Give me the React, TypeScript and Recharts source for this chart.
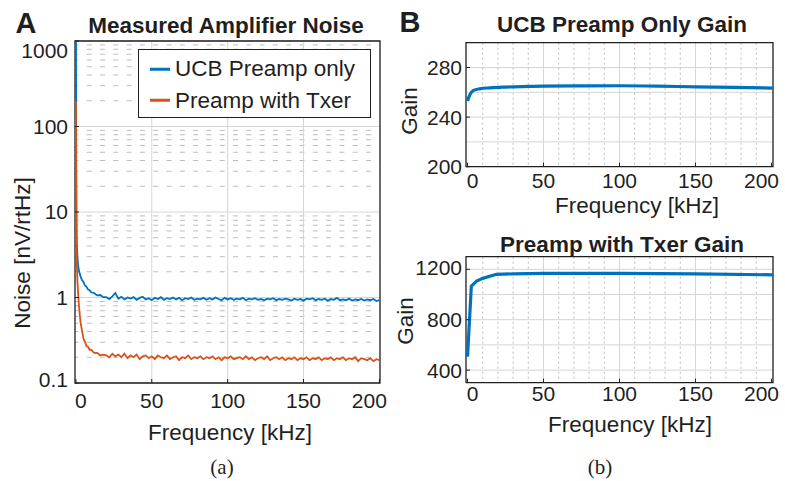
import {
  LineChart,
  Line,
  XAxis,
  YAxis,
  CartesianGrid,
  ReferenceArea,
  Legend,
} from "recharts";

const FONT = '"Liberation Sans", Arial, Helvetica, sans-serif';
const SERIF = '"Liberation Serif", "DejaVu Serif", serif';
const INK = "#1f1f1f";
const BLUE = "#0072BD";
const ORANGE = "#D95319";
const MAJOR = "#d6d6d6";
const MINOR = "#bdbdbd";
const W = 785;
const H = 481;

// ---- panel A: measured amplifier noise ----
const noiseFreq = [
  0, 0.25, 0.5, 1, 1.5, 2, 3, 4, 5, 6, 7, 8, 9, 10, 12, 14, 16, 18,
  20, 22, 24, 26, 28, 30, 32, 34, 36, 38,
  40, 42, 44, 46, 48, 50, 52, 54, 56, 58,
  60, 62, 64, 66, 68, 70, 72, 74, 76, 78,
  80, 82, 84, 86, 88, 90, 92, 94, 96, 98,
  100, 102, 104, 106, 108, 110, 112, 114, 116, 118,
  120, 122, 124, 126, 128, 130, 132, 134, 136, 138,
  140, 142, 144, 146, 148, 150, 152, 154, 156, 158,
  160, 162, 164, 166, 168, 170, 172, 174, 176, 178,
  180, 182, 184, 186, 188, 190, 192, 194, 196, 198,
  200,
];
const ucbNoise = [
  3000, 30, 4.6, 3.0, 2.35, 2.05, 1.78, 1.6, 1.52, 1.38, 1.33, 1.24, 1.22, 1.15, 1.13, 1.06, 1.07, 1.01,
  1.01, 0.96, 1.03, 1.13, 0.97, 1.02, 0.95, 1.0, 0.97, 1.01,
  0.94, 0.99, 1.02, 0.95, 0.98, 0.93, 0.99, 0.96, 1.01, 0.94,
  0.98, 0.96, 1.0, 0.95, 0.99, 0.93, 0.98, 0.96, 1.0, 0.94,
  0.97, 0.95, 0.99, 0.94, 0.98, 0.95, 1.0, 0.96, 0.93, 0.99,
  0.95, 0.98, 0.94, 0.97, 0.95, 0.99, 0.93, 0.97, 0.95, 0.98,
  0.94, 0.96, 0.93, 0.97, 0.95, 0.98, 0.93, 0.96, 0.94, 0.97,
  0.95, 0.92, 0.97, 0.94, 0.96, 0.92, 0.97, 0.95, 0.98, 0.93,
  0.96, 0.94, 0.97, 0.92, 0.96, 0.94, 0.99, 0.93, 0.95, 0.93,
  0.97, 0.92, 0.95, 0.93, 0.96, 0.92, 0.95, 0.93, 0.96, 0.91,
  0.93,
];
const txerNoise = [
  200, 7.5, 2.8, 1.55, 1.1, 0.8, 0.52, 0.41, 0.33, 0.3, 0.27, 0.265, 0.245, 0.245, 0.225, 0.225, 0.21, 0.215,
  0.21, 0.2, 0.22, 0.205, 0.215, 0.2, 0.22, 0.195, 0.21, 0.2,
  0.215, 0.19, 0.205, 0.21, 0.195, 0.205, 0.19, 0.21, 0.2, 0.195,
  0.21, 0.19, 0.2, 0.205, 0.185, 0.2, 0.195, 0.21, 0.19, 0.2,
  0.195, 0.205, 0.19, 0.2, 0.195, 0.205, 0.19, 0.2, 0.185, 0.2,
  0.195, 0.205, 0.19, 0.195, 0.2, 0.19, 0.205, 0.19, 0.2, 0.185,
  0.195, 0.2, 0.19, 0.205, 0.185, 0.195, 0.2, 0.19, 0.2, 0.185,
  0.195, 0.19, 0.2, 0.185, 0.195, 0.19, 0.2, 0.185, 0.195, 0.19,
  0.2, 0.185, 0.195, 0.19, 0.2, 0.185, 0.195, 0.19, 0.2, 0.185,
  0.195, 0.19, 0.2, 0.18, 0.195, 0.19, 0.185, 0.195, 0.18, 0.19,
  0.185,
];
const noiseSeries = [
  { key: "ucb", name: "UCB Preamp only", color: BLUE },
  { key: "txer", name: "Preamp with Txer", color: ORANGE },
];
const noiseXDomain = [-0.6, 200.4];
const noiseYDomain = [0.1, 1000];
const noiseXTicks = [0, 50, 100, 150, 200];
const noiseYTicks = [0.1, 1, 10, 100, 1000];
const noiseXGrid = [50, 100, 150];
const noiseYMinor = [2, 3, 4, 5, 6, 7, 8, 9].flatMap((m) => [m / 10, m, m * 10, m * 100]);

// ---- panel B: gains ----
const gainXDomain = [-1, 201];
const gainXTicks = [0, 50, 100, 150, 200];
const gainXGrid = [50, 100, 150];
const gainXMinor = [10, 20, 30, 40, 60, 70, 80, 90, 110, 120, 130, 140, 160, 170, 180, 190];

const ucbGainFreq = [0, 1, 2, 4, 8, 15, 25, 40, 50, 75, 100, 125, 150, 175, 201];
const ucbGain = [253, 256.5, 259, 261.5, 262.8, 263.6, 264.2, 264.7, 265, 265.2, 265.3, 265, 264.4, 264, 263.4];
const ucbGainDomain = [200, 300];
const ucbGainTicks = [200, 240, 280];
const ucbGainGrid = [220, 240, 260, 280];

const txerGainFreq = [0, 2.5, 6, 10, 19, 30, 50, 100, 150, 201];
const txerGain = [506, 1066, 1106, 1128, 1160, 1164, 1167, 1167, 1163, 1156];
const txerGainDomain = [300, 1300];
const txerGainTicks = [400, 800, 1200];
const txerGainGrid = [400, 600, 800, 1000, 1200];

const noiseRows = noiseFreq.map((f, i) => ({ f, ucb: ucbNoise[i], txer: txerNoise[i] }));
const ucbGainRows = ucbGainFreq.map((f, i) => ({ f, g: ucbGain[i] }));
const txerGainRows = txerGainFreq.map((f, i) => ({ f, g: txerGain[i] }));

// plot rectangles in page pixels; axes get 1px of room (a 0-size axis is not drawn)
const rectA = { left: 75, top: 41, right: 380, bottom: 383 };
const rectB1 = { left: 466, top: 42.7, right: 773, bottom: 166.7 };
const rectB2 = { left: 466, top: 256.7, right: 773, bottom: 382.7 };
const marginOf = (r: typeof rectA) => ({ left: r.left - 1, top: r.top, right: W - r.right, bottom: H - r.bottom - 1 });

const TICK_IN = -4; // matlab-style inward tick marks

const xTick = (first: number, last: number) => (p: any) => {
  const v = p.payload.value;
  const dx = v === first ? 5 : v === last ? -10 : 0;
  return (
    <text x={p.x + dx} y={p.y} dy="0.71em" textAnchor="middle" fill={INK} fontSize={21} fontFamily={FONT}>
      {v}
    </text>
  );
};

const yTick = (shift: Record<string, number>) => (p: any) => {
  const v = p.payload.value;
  return (
    <text x={p.x} y={p.y + (shift[String(v)] ?? 0)} dy="0.355em" textAnchor="end" fill={INK} fontSize={21} fontFamily={FONT}>
      {v}
    </text>
  );
};

function Txt(props: { x: number; y: number; size?: number; bold?: boolean; rotate?: boolean; serif?: boolean; children: any }) {
  const { x, y, size = 22.5, bold, rotate, serif, children } = props;
  return (
    <div
      style={{
        position: "absolute",
        left: x,
        top: y,
        transform: `translate(-50%, -50%)${rotate ? " rotate(-90deg)" : ""}`,
        whiteSpace: "nowrap",
        fontSize: size,
        fontWeight: bold ? 700 : 400,
        fontFamily: serif ? SERIF : FONT,
        color: INK,
        lineHeight: 1,
      }}
    >
      {children}
    </div>
  );
}

const NoiseLegend = (props: any) => {
  const items = [...(props.payload || [])].sort(
    (a: any, b: any) =>
      noiseSeries.findIndex((s) => s.name === a.value) - noiseSeries.findIndex((s) => s.name === b.value)
  );
  return (
    <div
      style={{
        position: "relative",
        width: 233,
        height: 69,
        boxSizing: "border-box",
        border: `1.3px solid ${INK}`,
        background: "#fff",
        fontFamily: FONT,
        fontSize: 22.5,
        color: INK,
      }}
    >
      {items.map((e: any, i: number) => (
        <div key={e.value} style={{ position: "absolute", left: 0, top: i === 0 ? 19 : 50.5, transform: "translateY(-50%)", display: "flex", alignItems: "center", lineHeight: 1 }}>
          <span style={{ display: "inline-block", marginLeft: 11, width: 20, height: 3, background: e.color }} />
          <span style={{ marginLeft: 5 }}>{e.value}</span>
        </div>
      ))}
    </div>
  );
};

const layer = { position: "absolute" as const, left: 0, top: 0 };

export default function App() {
  return (
    <div style={{ position: "absolute", left: 0, top: 0, width: W, height: H, background: "#fff", overflow: "hidden" }}>
      {/* A: noise */}
      <div style={layer}>
        <LineChart width={W} height={H} data={noiseRows} margin={marginOf(rectA)}>
          <XAxis
            dataKey="f"
            type="number"
            domain={noiseXDomain}
            ticks={noiseXTicks}
            interval={0}
            height={1}
            axisLine={false}
            tickLine={{ stroke: INK }}
            tickSize={TICK_IN}
            tickMargin={14}
            tick={xTick(0, 200)}
            allowDataOverflow
          />
          <YAxis
            type="number"
            scale="log"
            domain={noiseYDomain}
            ticks={noiseYTicks}
            interval={0}
            width={1}
            axisLine={false}
            tickLine={{ stroke: INK }}
            tickSize={TICK_IN}
            tickMargin={11}
            tick={yTick({ "0.1": -3, "1000": 10 })}
            allowDataOverflow
          />
          <CartesianGrid horizontalValues={noiseYMinor} vertical={false} stroke={MINOR} strokeDasharray="5 8.3" strokeDashoffset={-11.7} />
          <CartesianGrid horizontalValues={noiseYTicks} verticalValues={noiseXGrid} stroke={MAJOR} />
          <ReferenceArea x1={noiseXDomain[0]} x2={noiseXDomain[1]} y1={noiseYDomain[0]} y2={noiseYDomain[1]} fill="none" stroke={INK} strokeWidth={1.3} />
          {noiseSeries.map((s) => (
            <Line
              key={s.key}
              type="linear"
              dataKey={s.key}
              name={s.name}
              stroke={s.color}
              strokeWidth={1.8}
              dot={false}
              isAnimationActive={false}
            />
          ))}
          <Legend
            layout="horizontal"
            verticalAlign="middle"
            align="center"
            content={NoiseLegend}
            wrapperStyle={{ left: 138, top: 49, width: 233, height: 69 }}
          />
        </LineChart>
      </div>

      {/* B: UCB preamp gain */}
      <div style={layer}>
        <LineChart width={W} height={H} data={ucbGainRows} margin={marginOf(rectB1)}>
          <XAxis
            dataKey="f"
            type="number"
            domain={gainXDomain}
            ticks={gainXTicks}
            interval={0}
            height={1}
            axisLine={false}
            tickLine={{ stroke: INK }}
            tickSize={TICK_IN}
            tickMargin={10}
            tick={xTick(0, 200)}
            allowDataOverflow
          />
          <YAxis
            type="number"
            domain={ucbGainDomain}
            ticks={ucbGainTicks}
            interval={0}
            width={1}
            axisLine={false}
            tickLine={{ stroke: INK }}
            tickSize={TICK_IN}
            tickMargin={8}
            tick={yTick({})}
            allowDataOverflow
          />
          <CartesianGrid horizontal={false} verticalValues={gainXMinor} stroke={MINOR} strokeDasharray="2 3" />
          <CartesianGrid horizontalValues={ucbGainGrid} verticalValues={gainXGrid} stroke={MAJOR} />
          <ReferenceArea x1={gainXDomain[0]} x2={gainXDomain[1]} y1={ucbGainDomain[0]} y2={ucbGainDomain[1]} fill="none" stroke={INK} strokeWidth={1.3} />
          <Line type="monotone" dataKey="g" stroke={BLUE} strokeWidth={3.2} dot={false} isAnimationActive={false} />
        </LineChart>
      </div>

      {/* B: preamp with transformer gain */}
      <div style={layer}>
        <LineChart width={W} height={H} data={txerGainRows} margin={marginOf(rectB2)}>
          <XAxis
            dataKey="f"
            type="number"
            domain={gainXDomain}
            ticks={gainXTicks}
            interval={0}
            height={1}
            axisLine={false}
            tickLine={{ stroke: INK }}
            tickSize={TICK_IN}
            tickMargin={7}
            tick={xTick(0, 200)}
            allowDataOverflow
          />
          <YAxis
            type="number"
            domain={txerGainDomain}
            ticks={txerGainTicks}
            interval={0}
            width={1}
            axisLine={false}
            tickLine={{ stroke: INK }}
            tickSize={TICK_IN}
            tickMargin={8}
            tick={yTick({ "1200": -2 })}
            allowDataOverflow
          />
          <CartesianGrid horizontal={false} verticalValues={gainXMinor} stroke={MINOR} strokeDasharray="2 3" />
          <CartesianGrid horizontalValues={txerGainGrid} verticalValues={gainXGrid} stroke={MAJOR} />
          <ReferenceArea x1={gainXDomain[0]} x2={gainXDomain[1]} y1={txerGainDomain[0]} y2={txerGainDomain[1]} fill="none" stroke={INK} strokeWidth={1.3} />
          <Line type="linear" dataKey="g" stroke={BLUE} strokeWidth={3.2} dot={false} isAnimationActive={false} />
        </LineChart>
      </div>

      <Txt x={26} y={22.5} size={29} bold>A</Txt>
      <Txt x={410} y={22} size={29} bold>B</Txt>
      <Txt x={226} y={26} bold>Measured Amplifier Noise</Txt>
      <Txt x={622} y={25} bold>UCB Preamp Only Gain</Txt>
      <Txt x={622} y={245} bold>Preamp with Txer Gain</Txt>
      <Txt x={22.5} y={253} rotate>Noise [nV/rtHz]</Txt>
      <Txt x={410} y={111} rotate>Gain</Txt>
      <Txt x={406} y={321} rotate>Gain</Txt>
      <Txt x={230} y={433}>Frequency [kHz]</Txt>
      <Txt x={637} y={206}>Frequency [kHz]</Txt>
      <Txt x={630} y={425}>Frequency [kHz]</Txt>
      <Txt x={222} y={467} size={21} serif>(a)</Txt>
      <Txt x={600} y={467} size={21} serif>(b)</Txt>
    </div>
  );
}
